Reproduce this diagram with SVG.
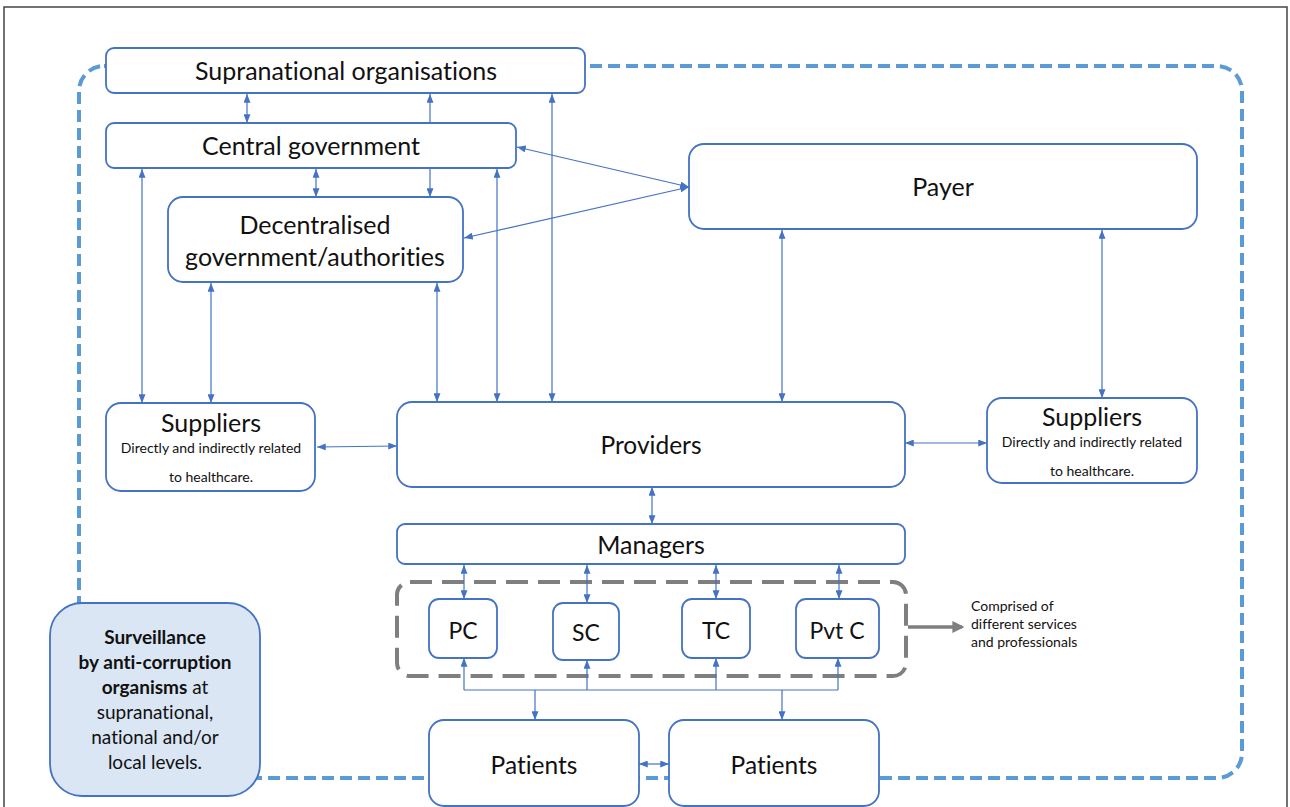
<svg xmlns="http://www.w3.org/2000/svg" width="1290" height="807" viewBox="0 0 1290 807">
<style>
.bx{fill:#fff;stroke:#4472c4;stroke-width:1.8}
.t{font-family:Lato,"Open Sans","Liberation Sans",sans-serif;fill:#111;text-anchor:middle;font-variant-ligatures:none}
.c{stroke:#4472c4;stroke-width:1.2;fill:none}
.s{font-size:14px}
</style>
<defs>
<marker id="ah" viewBox="0 0 10 8" refX="10" refY="4" markerWidth="9" markerHeight="7" markerUnits="userSpaceOnUse" orient="auto-start-reverse"><path d="M0,0L10,4L0,8z" fill="#4472c4"/></marker>
<marker id="ag" viewBox="0 0 10 10" refX="8" refY="5" markerWidth="12" markerHeight="12" markerUnits="userSpaceOnUse" orient="auto"><path d="M0,0L10,5L0,10z" fill="#7f7f7f"/></marker>
</defs>
<rect x="4" y="7" width="1283" height="820" fill="#fff" stroke="#444" stroke-width="1.5"/>
<rect x="79" y="66" width="1163" height="712" rx="25" fill="none" stroke="#5b9bd5" stroke-width="4" stroke-dasharray="12,6"/>
<rect x="397" y="582" width="509" height="94" rx="13" fill="none" stroke="#7f7f7f" stroke-width="4" stroke-dasharray="22,10"/>
<g id="connectors">
<line class="c" x1="247" y1="94" x2="247" y2="123" marker-start="url(#ah)" marker-end="url(#ah)"/>
<line class="c" x1="430" y1="94" x2="430" y2="197" marker-start="url(#ah)" marker-end="url(#ah)"/>
<line class="c" x1="552" y1="94" x2="552" y2="402" marker-start="url(#ah)" marker-end="url(#ah)"/>
<line class="c" x1="316" y1="169" x2="316" y2="197" marker-start="url(#ah)" marker-end="url(#ah)"/>
<line class="c" x1="142" y1="169" x2="142" y2="403" marker-start="url(#ah)" marker-end="url(#ah)"/>
<line class="c" x1="497" y1="169" x2="497" y2="402" marker-start="url(#ah)" marker-end="url(#ah)"/>
<line class="c" x1="211" y1="283" x2="211" y2="403" marker-start="url(#ah)" marker-end="url(#ah)"/>
<line class="c" x1="437" y1="283" x2="437" y2="402" marker-start="url(#ah)" marker-end="url(#ah)"/>
<line class="c" x1="517" y1="147" x2="689" y2="187" marker-start="url(#ah)" marker-end="url(#ah)"/>
<line class="c" x1="464" y1="238" x2="689" y2="187" marker-start="url(#ah)" marker-end="url(#ah)"/>
<line class="c" x1="782" y1="230" x2="782" y2="402" marker-start="url(#ah)" marker-end="url(#ah)"/>
<line class="c" x1="1102" y1="230" x2="1102" y2="398" marker-start="url(#ah)" marker-end="url(#ah)"/>
<line class="c" x1="317" y1="447" x2="397" y2="446" marker-start="url(#ah)" marker-end="url(#ah)"/>
<line class="c" x1="905" y1="443" x2="987" y2="443" marker-start="url(#ah)" marker-end="url(#ah)"/>
<line class="c" x1="652" y1="487" x2="652" y2="524" marker-start="url(#ah)" marker-end="url(#ah)"/>
<line class="c" x1="464" y1="565" x2="464" y2="599" marker-start="url(#ah)" marker-end="url(#ah)"/>
<line class="c" x1="587" y1="565" x2="587" y2="603" marker-start="url(#ah)" marker-end="url(#ah)"/>
<line class="c" x1="716" y1="565" x2="716" y2="599" marker-start="url(#ah)" marker-end="url(#ah)"/>
<line class="c" x1="839" y1="565" x2="839" y2="599" marker-start="url(#ah)" marker-end="url(#ah)"/>
<line class="c" x1="464" y1="690" x2="464" y2="658" marker-end="url(#ah)"/>
<line class="c" x1="587" y1="690" x2="587" y2="660" marker-end="url(#ah)"/>
<line class="c" x1="716" y1="690" x2="716" y2="658" marker-end="url(#ah)"/>
<line class="c" x1="838" y1="690" x2="838" y2="658" marker-end="url(#ah)"/>
<line class="c" x1="464" y1="690" x2="838" y2="690"/>
<line class="c" x1="535" y1="690" x2="535" y2="720" marker-end="url(#ah)"/>
<line class="c" x1="782" y1="690" x2="782" y2="720" marker-end="url(#ah)"/>
<line class="c" x1="639" y1="764" x2="669" y2="764" marker-start="url(#ah)" marker-end="url(#ah)"/>
<line x1="908" y1="627" x2="962" y2="627" stroke="#7f7f7f" stroke-width="3.5" marker-end="url(#ag)"/>
</g>
<g id="supranational"><rect class="bx" x="106" y="48" width="479" height="45" rx="8"/><text class="t" x="346" y="80" font-size="25">Supranational organisations</text></g>
<g id="central"><rect class="bx" x="106" y="123" width="410" height="45" rx="8"/><text class="t" x="311" y="155" font-size="25">Central government</text></g>
<g id="decentralised"><rect class="bx" x="168" y="197" width="295" height="85" rx="15"/><text class="t" x="315" y="234" font-size="25">Decentralised</text><text class="t" x="315" y="266" font-size="25">government/authorities</text></g>
<g id="payer"><rect class="bx" x="689" y="144" width="508" height="85" rx="15"/><text class="t" x="943" y="196" font-size="25">Payer</text></g>
<g id="suppliers-left"><rect class="bx" x="106" y="403" width="209" height="88" rx="15"/><text class="t" x="211" y="432" font-size="25">Suppliers</text><text class="t s" x="211" y="453">Directly and indirectly related</text><text class="t s" x="211" y="482">to healthcare.</text></g>
<g id="providers"><rect class="bx" x="397" y="402" width="508" height="85" rx="15"/><text class="t" x="651" y="454" font-size="24.5">Providers</text></g>
<g id="suppliers-right"><rect class="bx" x="987" y="398" width="210" height="85" rx="15"/><text class="t" x="1092" y="426" font-size="25">Suppliers</text><text class="t s" x="1092" y="447">Directly and indirectly related</text><text class="t s" x="1092" y="476">to healthcare.</text></g>
<g id="managers"><rect class="bx" x="397" y="524" width="508" height="40" rx="8"/><text class="t" x="651" y="554" font-size="25">Managers</text></g>
<g id="pc"><rect class="bx" x="429" y="599" width="68" height="59" rx="10"/><text class="t" x="463" y="639" font-size="23">PC</text></g>
<g id="sc"><rect class="bx" x="553" y="603" width="66" height="57" rx="10"/><text class="t" x="586" y="641" font-size="23">SC</text></g>
<g id="tc"><rect class="bx" x="682" y="599" width="68" height="59" rx="10"/><text class="t" x="716" y="639" font-size="23">TC</text></g>
<g id="pvtc"><rect class="bx" x="796" y="599" width="83" height="59" rx="10"/><text class="t" x="837" y="639" font-size="23">Pvt C</text></g>
<g id="comprised"><text class="t" x="971" y="611" font-size="14" style="text-anchor:start"><tspan x="971">Comprised of</tspan><tspan x="971" dy="18">different services</tspan><tspan x="971" dy="18">and professionals</tspan></text></g>
<g id="patients-left"><rect class="bx" x="429" y="720" width="210" height="86" rx="15"/><text class="t" x="534" y="774" font-size="24.5">Patients</text></g>
<g id="patients-right"><rect class="bx" x="669" y="720" width="210" height="86" rx="15"/><text class="t" x="774" y="774" font-size="24.5">Patients</text></g>
<g id="surveillance"><rect x="50" y="603" width="210" height="193" rx="32" fill="#dae6f4" stroke="#4472c4" stroke-width="1.8"/>
<text class="t" font-size="19"><tspan x="155" y="644" font-weight="bold">Surveillance</tspan><tspan x="155" y="669" font-weight="bold">by anti-corruption</tspan><tspan x="155" y="694"><tspan font-weight="bold">organisms</tspan> at</tspan><tspan x="155" y="719">supranational,</tspan><tspan x="155" y="744">national and/or</tspan><tspan x="155" y="769">local levels.</tspan></text></g>
</svg>
